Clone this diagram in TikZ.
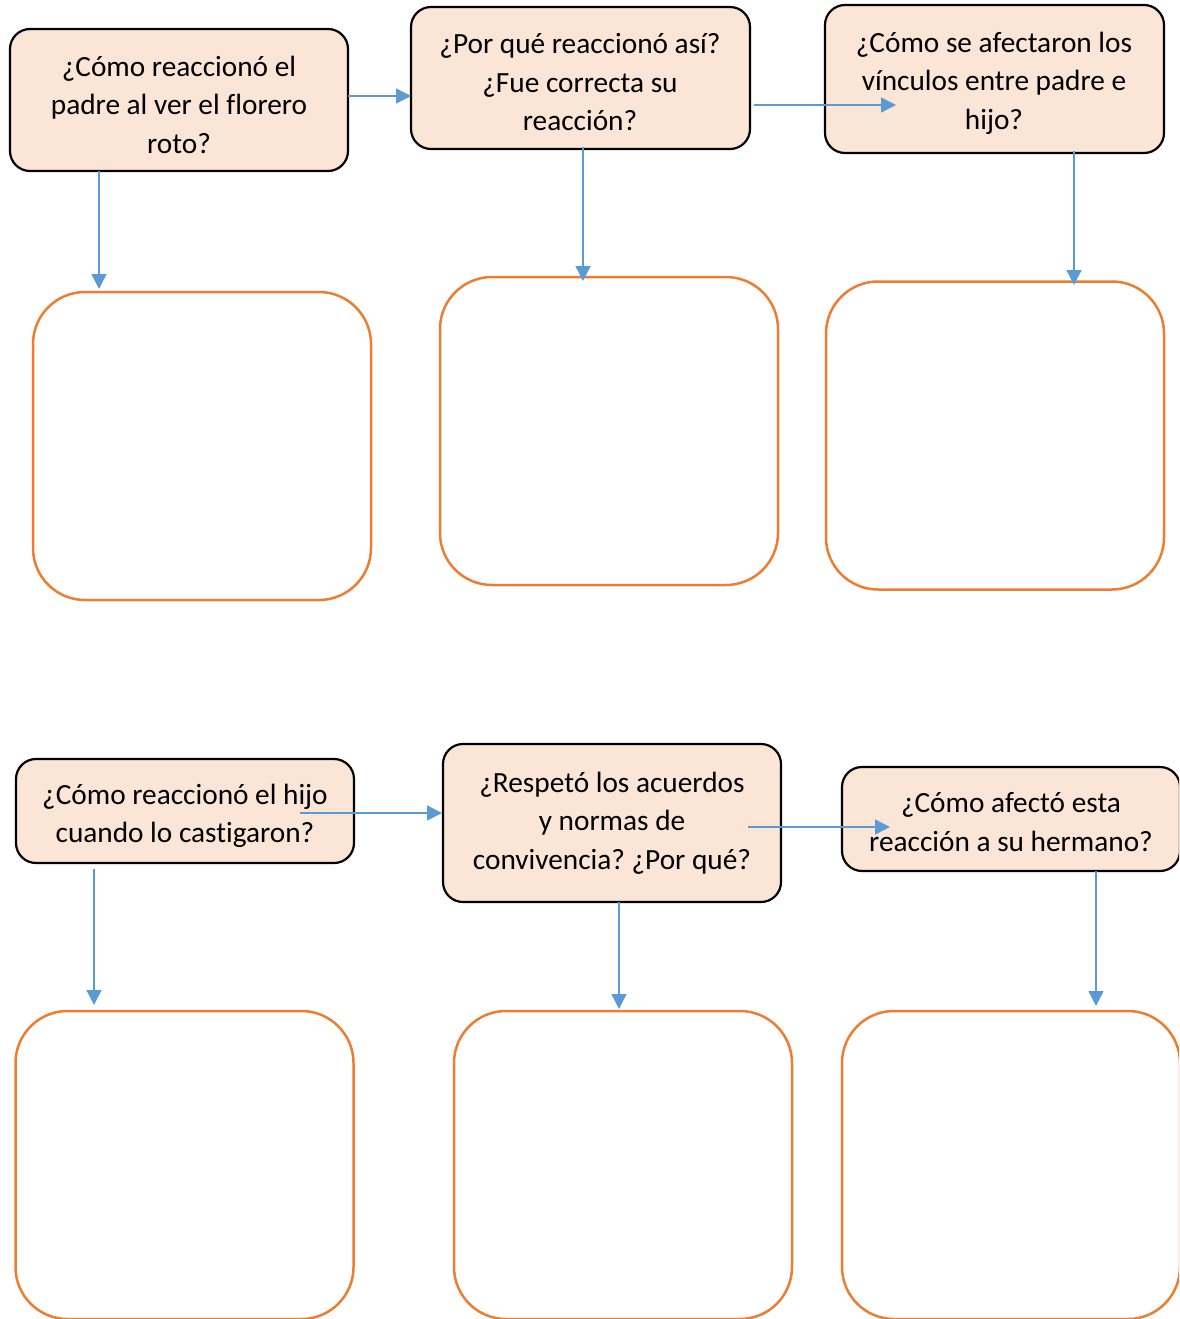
\documentclass[tikz,border=0pt]{standalone}
\usepackage{fontspec}
\setmainfont{Carlito}[RawFeature={-liga;-calt;-clig;-dlig}]
\usetikzlibrary{arrows.meta}
\definecolor{peach}{HTML}{FBE5D6}
\definecolor{borange}{HTML}{ED7D31}
\definecolor{lblue}{HTML}{5B9BD5}
\tikzset{
  qbox/.style={draw=black, line width=2.2pt, fill=peach, rounded corners=20pt,
    inner sep=0pt},
  qtext/.style={align=center, inner sep=0pt,
    font=\frenchspacing\fontsize{29.3}{38.5}\selectfont},
  abox/.style={draw=borange, line width=2.5pt, rounded corners=52pt,
    minimum width=338pt, minimum height=308pt, inner sep=0pt},
  arr/.style={draw=lblue, line width=1.4pt, -{Triangle[length=15pt,width=15pt]}}
}
\begin{document}
\begin{tikzpicture}[x=1pt,y=-1pt]
\useasboundingbox (0,0) rectangle (1179,1319);
\clip (0,0) rectangle (1179,1319);
% question boxes
\node[qbox, minimum width=338pt, minimum height=142pt] (q1) at (179,100) {};
\node[qbox, minimum width=339pt, minimum height=142pt] (q2) at (580.5,78) {};
\node[qbox, minimum width=339pt, minimum height=148pt] (q3) at (994.5,79) {};
\node[qbox, minimum width=338pt, minimum height=104pt] (q4) at (185,811) {};
\node[qbox, minimum width=338pt, minimum height=158pt] (q5) at (612,823) {};
\node[qbox, minimum width=338pt, minimum height=104pt] (q6) at (1011,819) {};
% question texts
\node[qtext] (t1) at (179,104.5) {¿Cómo reaccionó el\\padre al ver el florero\\roto?};
\node[qtext] (t2) at (580,82.5) {¿Por qué reaccionó así?\\¿Fue correcta su\\reacción?};
\node[qtext] (t3) at (994,83) {¿Cómo se afectaron los\\vínculos entre padre e\\hijo?};
\node[qtext] (t4) at (185,816) {¿Cómo reaccionó el hijo\\cuando lo castigaron?};
\node[qtext] (t5) at (612,823) {¿Respetó los acuerdos\\y normas de\\convivencia? ¿Por qué?};
\node[qtext] (t6) at (1011,822) {¿Cómo afectó esta\\reacción a su hermano?};
% answer boxes
\node[abox] (a1) at (202,446) {};
\node[abox] (a2) at (609,431) {};
\node[abox] (a3) at (995,435.5) {};
\node[abox] (a4) at (184.5,1165) {};
\node[abox] (a5) at (623,1165) {};
\node[abox] (a6) at (1011,1165) {};
% arrow endpoints
\coordinate (s12) at (348,96);   \coordinate (e12) at (411,96);
\coordinate (s23) at (754,105);  \coordinate (e23) at (896,105);
\coordinate (s45) at (300,813);  \coordinate (e45) at (442,813);
\coordinate (s56) at (748,827);  \coordinate (e56) at (890,827);
\coordinate (s1) at (99,171);    \coordinate (e1) at (99,289);
\coordinate (s2) at (583,147);   \coordinate (e2) at (583,281);
\coordinate (s3) at (1074,151);  \coordinate (e3) at (1074,285);
\coordinate (s4) at (94,869);    \coordinate (e4) at (94,1005);
\coordinate (s5) at (619,902);   \coordinate (e5) at (619,1009);
\coordinate (s6) at (1096,871);  \coordinate (e6) at (1096,1006);
\draw[arr] (s12) -- (e12);
\draw[arr] (s23) -- (e23);
\draw[arr] (s45) -- (e45);
\draw[arr] (s56) -- (e56);
\draw[arr] (s1) -- (e1);
\draw[arr] (s2) -- (e2);
\draw[arr] (s3) -- (e3);
\draw[arr] (s4) -- (e4);
\draw[arr] (s5) -- (e5);
\draw[arr] (s6) -- (e6);
\end{tikzpicture}
\end{document}
